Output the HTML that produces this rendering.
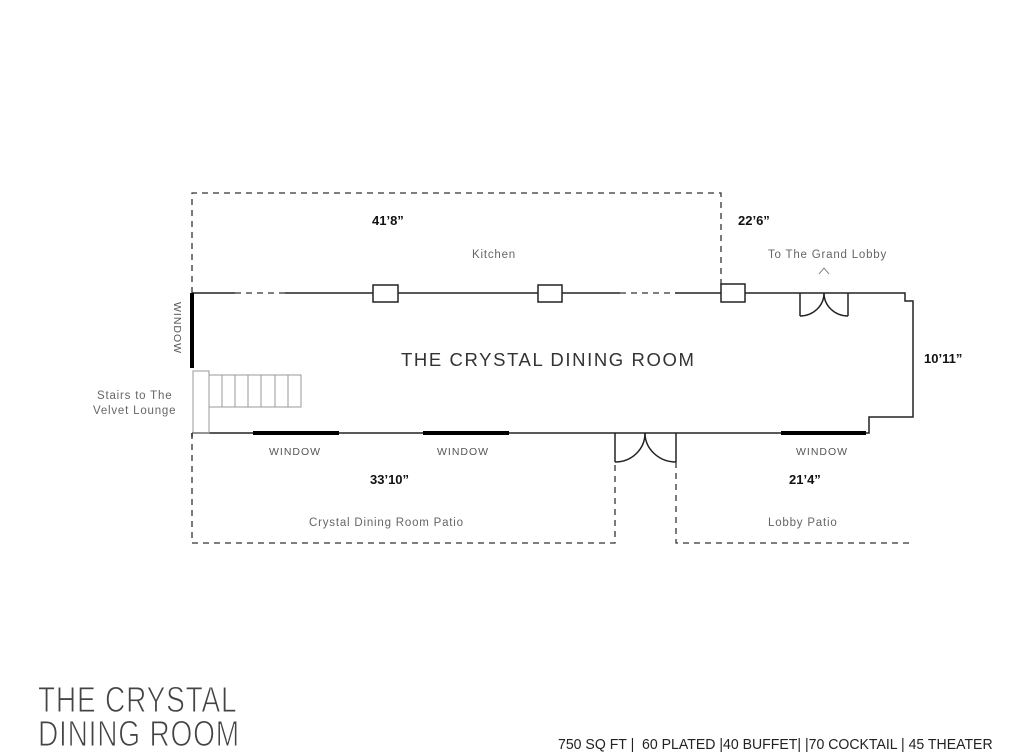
<!DOCTYPE html>
<html><head><style>
html,body{margin:0;padding:0;background:#fff;}
svg{display:block;}
text{font-family:"Liberation Sans",sans-serif;}
</style></head><body>
<svg width="1032" height="754" viewBox="0 0 1032 754" xmlns="http://www.w3.org/2000/svg">
<g fill="none" stroke="#222" stroke-width="1.5">
<g stroke-dasharray="6,5" stroke="#333" stroke-width="1.3">
<polyline points="192,293 192,193 721,193 721,285"/>
<polyline points="192,433 192,543 615,543 615,462"/>
<polyline points="676,462 676,543 913,543"/>
<line x1="235" y1="293" x2="285" y2="293"/>
<line x1="620" y1="293" x2="675" y2="293"/>
</g>
<polyline points="192,293 235,293"/>
<polyline points="285,293 373,293"/>
<polyline points="398,293 538,293"/>
<polyline points="562,293 620,293"/>
<polyline points="675,293 721,293"/>
<polyline points="745,293 905,293 905,301 913,301 913,417 869,417 869,433 192,433"/>
<rect x="373" y="285" width="25" height="17"/>
<rect x="538" y="285" width="24" height="17"/>
<rect x="721" y="284" width="24" height="18"/>
<line x1="800" y1="293" x2="800" y2="316"/>
<line x1="848" y1="293" x2="848" y2="316"/>
<path d="M800,316 C813,316 824,306 824,293"/>
<path d="M848,316 C835,316 824,306 824,293"/>
<line x1="615" y1="433" x2="615" y2="462"/>
<line x1="676" y1="433" x2="676" y2="462"/>
<path d="M615,462 C632,462 645,449 645,433"/>
<path d="M676,462 C659,462 645,449 645,433"/>
<polyline points="819,274 824,268 829,274" stroke="#888" stroke-width="1"/>
</g>
<g stroke="#000" stroke-width="4">
<line x1="192" y1="293" x2="192" y2="368"/>
<line x1="253" y1="433" x2="339" y2="433"/>
<line x1="423" y1="433" x2="509" y2="433"/>
<line x1="781" y1="433" x2="866" y2="433"/>
</g>
<line x1="192" y1="433" x2="192" y2="437" stroke="#222" stroke-width="1.5"/>
<g fill="none" stroke="#999" stroke-width="1">
<rect x="193" y="371" width="16" height="62"/>
<rect x="209" y="375" width="92" height="32"/>
<line x1="222" y1="375" x2="222" y2="407"/>
<line x1="235" y1="375" x2="235" y2="407"/>
<line x1="248" y1="375" x2="248" y2="407"/>
<line x1="261" y1="375" x2="261" y2="407"/>
<line x1="275" y1="375" x2="275" y2="407"/>
<line x1="288" y1="375" x2="288" y2="407"/>
</g>
<g font-size="13" font-weight="bold" fill="#111">
<text x="372" y="225">41’8”</text>
<text x="738" y="225">22’6”</text>
<text x="924" y="363">10’11”</text>
<text x="370" y="484">33’10”</text>
<text x="789" y="484">21’4”</text>
</g>
<g font-size="11.5" fill="#666" letter-spacing="0.8">
<text x="472" y="258">Kitchen</text>
<text x="768" y="258">To The Grand Lobby</text>
<text x="97" y="399">Stairs to The</text>
<text x="93" y="414">Velvet Lounge</text>
<text x="309" y="526">Crystal Dining Room Patio</text>
<text x="768" y="526">Lobby Patio</text>
</g>
<g font-size="10.5" fill="#555" letter-spacing="1">
<text x="269" y="455">WINDOW</text>
<text x="437" y="455">WINDOW</text>
<text x="796" y="455">WINDOW</text>
<text transform="translate(174,302) rotate(90)">WINDOW</text>
</g>
<text x="401" y="366" font-size="18.5" fill="#333" letter-spacing="1.6">THE CRYSTAL DINING ROOM</text>
<g fill="#444">
<text transform="translate(38,712) scale(0.78,1)" font-size="36" letter-spacing="1" stroke="#fff" stroke-width="1">THE CRYSTAL</text>
<text transform="translate(38,746) scale(0.78,1)" font-size="36" letter-spacing="1" stroke="#fff" stroke-width="1">DINING ROOM</text>
<text transform="translate(558,749) scale(0.94,1)" font-size="15" fill="#222" xml:space="preserve">750 SQ FT |  60 PLATED |40 BUFFET| |70 COCKTAIL | 45 THEATER</text>
</g>
</svg>
</body></html>
